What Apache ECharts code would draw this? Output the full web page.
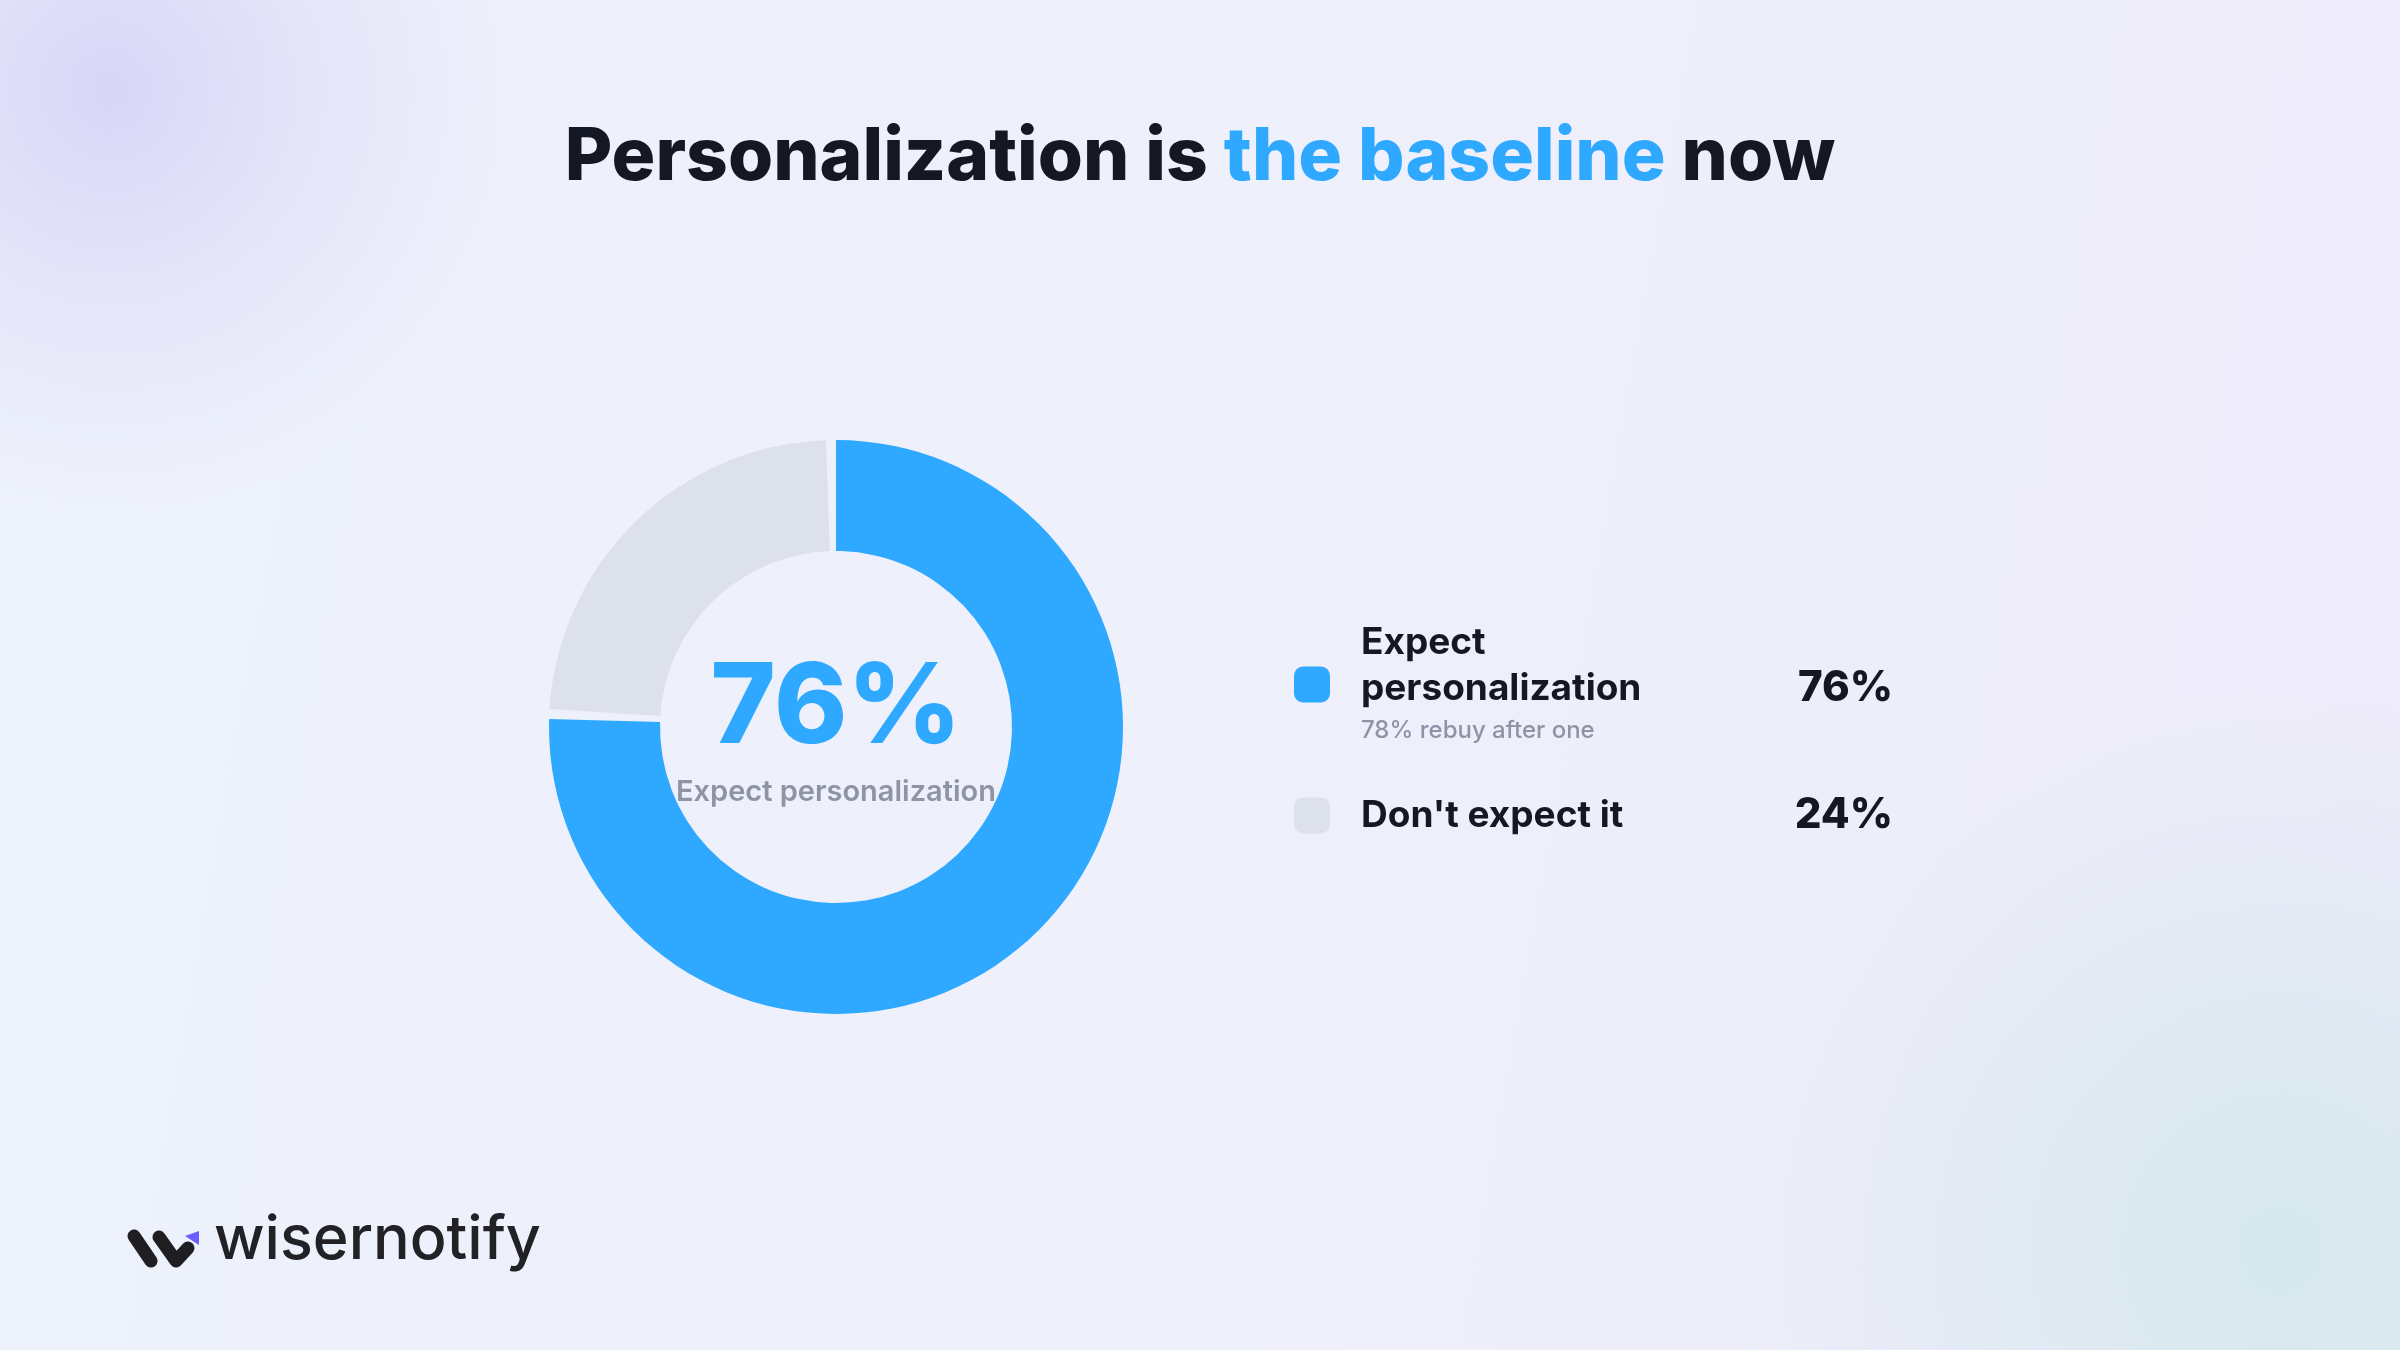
<!DOCTYPE html>
<html>
<head>
<meta charset="utf-8">
<script src="https://cdn.jsdelivr.net/npm/echarts@6/dist/echarts.min.js"></script>
<style>
  html, body { margin: 0; padding: 0; }
  body {
    width: 2400px; height: 1350px; overflow: hidden;
    background:
      radial-gradient(circle at 110px 90px, rgba(214,212,247,0.95) 0, rgba(222,221,248,0.6) 200px, rgba(236,239,251,0) 420px),
      radial-gradient(circle at 2280px 1250px, rgba(214,232,238,1) 0, rgba(219,233,241,0.7) 250px, rgba(236,236,250,0) 560px),
      linear-gradient(100deg, #EDF2FB 0%, #EEF0FB 50%, #EEEBFA 100%);
  }
  #chart { width: 2400px; height: 1350px; }
</style>
</head>
<body>
<div id="chart"></div>
<script>
// 数据
var categories = ['Expect personalization', "Don't expect it"];
var legendLines = [['Expect', 'personalization'], ["Don't expect it"]];
var shares = [76, 24];
var notes = ['78% rebuy after one', ''];
var sliceColors = ['#2EA9FF', '#DDE1EA'];

var FONT = 'Inter, "Noto Sans", sans-serif';
var DARK = '#141824';
var BLUE = '#2EA9FF';
var MUTED = '#8E93A6';

var Chart = echarts.init(document.getElementById('chart'), null, { renderer: 'canvas' });

var pieData = categories.map(function (name, i) {
	return { name: name, value: shares[i], itemStyle: { color: sliceColors[i] } };
});

// 图例文字 (多行 + 右侧百分比)
function legendText(name) {
	var i = categories.indexOf(name);
	var lines = legendLines[i];
	var out = lines.map(function (l, k) {
		var s = '{name|' + l + '}';
		if (k === lines.length - 1) s += '{val|' + shares[i] + '%}';
		return s;
	}).join('\n');
	if (notes[i]) out += '\n{sub|' + notes[i] + '}';
	return out;
}

myOption = {
	backgroundColor: 'transparent',
	animation: false,
	legend: {
		orient: 'vertical',
		left: 1294,
		top: 624,
		padding: 0,
		itemGap: 52,
		itemWidth: 36,
		itemHeight: 36,
		icon: 'roundRect',
		selectedMode: false,
		data: categories,
		formatter: legendText,
		textStyle: {
			padding: [0, 0, 0, 26],
			rich: {
				name: { fontFamily: FONT, fontSize: 37, fontWeight: 700, color: DARK, width: 442, lineHeight: 46 },
				val: { fontFamily: FONT, fontSize: 42, fontWeight: 800, color: DARK, width: 90, align: 'right', lineHeight: 46 },
				sub: { fontFamily: FONT, fontSize: 24, fontWeight: 500, color: MUTED, lineHeight: 38 }
			}
		}
	},
	graphic: [
		{ // 标题
			type: 'text',
			style: {
				x: 1200, y: 158,
				text: '{a|Personalization is }{b|the baseline}{a| now}',
				align: 'center', verticalAlign: 'middle',
				rich: {
					a: { fontFamily: FONT, fontSize: 73, fontWeight: 800, fill: DARK },
					b: { fontFamily: FONT, fontSize: 73, fontWeight: 800, fill: BLUE }
				}
			}
		},
		{ // 中心数字
			type: 'text',
			style: {
				x: 836, y: 710,
				text: shares[0] + '%',
				align: 'center', verticalAlign: 'middle',
				fontFamily: FONT, fontSize: 111, fontWeight: 800, fill: BLUE
			}
		},
		{
			type: 'text',
			style: {
				x: 836, y: 792,
				text: categories[0],
				align: 'center', verticalAlign: 'middle',
				fontFamily: FONT, fontSize: 29, fontWeight: 600, fill: MUTED
			}
		},
		{ // logo
			type: 'group',
			children: [
				{ type: 'polyline', shape: { points: [[134, 1236], [151, 1261]] }, style: { stroke: '#1F1F23', lineWidth: 13, lineCap: 'round', lineJoin: 'round', fill: null } },
				{ type: 'polyline', shape: { points: [[159, 1237], [176, 1261], [188, 1248]] }, style: { stroke: '#1F1F23', lineWidth: 13, lineCap: 'round', lineJoin: 'round', fill: null } },
				{ type: 'polygon', shape: { points: [[185, 1236], [199, 1231], [199, 1245]] }, style: { fill: '#6A5CFF' } },
				{ type: 'text', style: { x: 214, y: 1241, text: 'wisernotify', verticalAlign: 'middle', fontFamily: FONT, fontSize: 61, fontWeight: 500, fill: '#222226' } }
			]
		}
	],
	series: [{
		type: 'pie',
		center: [836, 727],
		radius: [176, 287],
		startAngle: 91,
		padAngle: 2,
		clockwise: true,
		label: { show: false },
		labelLine: { show: false },
		emphasis: { disabled: true },
		data: pieData
	}]
};
Chart.setOption(myOption);
</script>
</body>
</html>
